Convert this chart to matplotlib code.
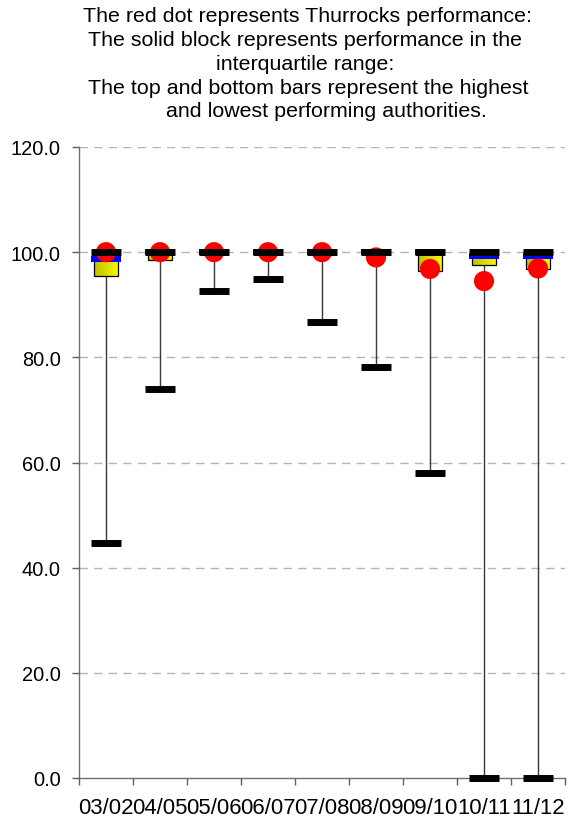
import matplotlib
matplotlib.use("Agg")
import matplotlib.pyplot as plt
import numpy as np

plt.rcParams['font.family'] = ['Liberation Sans', 'DejaVu Sans']

# chart values
seasons = ["03/02", "04/05", "05/06", "06/07", "07/08", "08/09", "09/10", "10/11", "11/12"]
highest = [100.0, 100.0, 100.0, 100.0, 100.0, 100.0, 100.0, 100.0, 100.0]
lowest = [44.7, 74.0, 92.6, 94.9, 86.7, 78.1, 58.0, 0.0, 0.0]
upper_q = [100.0, 100.0, 100.0, 100.0, 100.0, 100.0, 100.0, 99.0, 99.0]
lower_q = [95.5, 98.5, 100.0, 100.0, 100.0, 100.0, 96.4, 97.6, 96.8]
median = [98.7, 100.0, 100.0, 100.0, 100.0, 100.0, 100.0, 99.3, 99.3]
thurrock = [100.0, 100.0, 100.0, 100.0, 100.0, 99.0, 96.8, 94.5, 96.9]

title_lines = ["The red dot represents Thurrocks performance:",
               "The solid block represents performance in the",
               "interquartile range:",
               "The top and bottom bars represent the highest",
               "and lowest performing authorities."]

W, H = 569, 820
fig = plt.figure(figsize=(W / 100, H / 100), dpi=100)
ax = fig.add_axes([79 / W, 41 / H, (565 - 79) / W, (779 - 148) / H])

x = np.arange(len(seasons))
fs = 14.4

# whiskers
ax.vlines(x, lowest, highest, color='#3a3a3a', lw=1.0, zorder=2)

# interquartile boxes with a yellow gradient
grad = np.linspace(0, 1, 32).reshape(1, -1)
cmap = matplotlib.colors.LinearSegmentedColormap.from_list("yel", ["#c0c000", "#f6f600"])
bw = 0.213
for xi, lo, hi in zip(x, lower_q, upper_q):
    if hi - lo <= 0:
        continue
    ax.imshow(grad, cmap=cmap, extent=(xi - bw, xi + bw, lo, hi),
              aspect='auto', zorder=3, interpolation='bilinear')
    ax.add_patch(plt.Rectangle((xi - bw, lo), 2 * bw, hi - lo, fill=False,
                               edgecolor='black', lw=0.9, zorder=3.5))

# medians
ax.hlines(median, x - 0.27, x + 0.27, color='#0000ff', lw=4.3, zorder=4)

# Thurrock
ax.scatter(x, thurrock, s=210, color='#ff0000', edgecolors='none', zorder=5)

# highest / lowest
ax.hlines(highest, x - 0.27, x + 0.27, color='black', lw=5, zorder=6)
ax.hlines(lowest, x - 0.27, x + 0.27, color='black', lw=5, zorder=6, clip_on=False)

ax.set_xlim(-0.5, len(seasons) - 0.5)
ax.set_ylim(0, 120)
ax.set_yticks(np.arange(0, 121, 20))
ax.set_yticklabels([f"{v:.1f}" for v in np.arange(0, 121, 20)], fontsize=fs)
ax.set_xticks(x)
ax.set_xticklabels(seasons, fontsize=15.9)
ax.set_xticks(np.arange(-0.5, len(seasons)), minor=True)
ax.tick_params(axis='x', which='major', length=0, pad=14)
ax.tick_params(axis='x', which='minor', length=5, color='#606060', width=1)
ax.tick_params(axis='y', length=5, color='#606060', width=1, pad=8)

for v in np.arange(20, 121, 20):
    ax.axhline(v, color='#b4b4b4', lw=1.0, ls=(0, (6, 4.5)), zorder=1)

for s in ['top', 'right']:
    ax.spines[s].set_visible(False)
for s in ['left', 'bottom']:
    ax.spines[s].set_color('#707070')
    ax.spines[s].set_linewidth(1.0)
    ax.spines[s].set_zorder(1.5)

baselines = [22.5, 46, 70, 93.5, 117]
centers = [307.5, 305.5, 305, 308, 326]
for line, yb, xc in zip(title_lines, baselines, centers):
    fig.text(xc / W, 1 - yb / H, line, ha='center', va='baseline', fontsize=15.4)

fig.savefig("out.png", dpi=100)
